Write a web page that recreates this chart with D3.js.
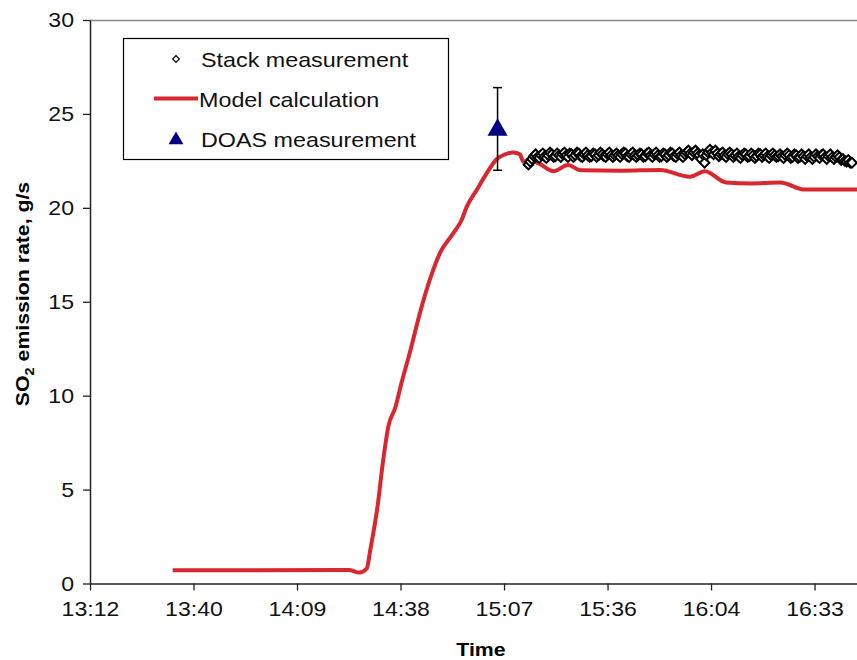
<!DOCTYPE html>
<html>
<head>
<meta charset="utf-8">
<script src="https://cdn.jsdelivr.net/npm/d3@7"></script>
<style>
  body { margin: 0; background: #fff; }
  text { font-family: "Liberation Sans", Arial, sans-serif; }
</style>
</head>
<body>
<div id="chart-area"></div>
<script>

// times are minutes after midnight
var xTicks = [792, 820.8, 849.6, 878.4, 907.2, 936, 964.8, 993.6];
var yTicks = [0, 5, 10, 15, 20, 25, 30];

// model calculation (red line)
var modelTimes = [815, 862, 864, 867, 869, 870, 872, 873.6, 875, 877, 878.7, 881, 883.8, 886.6,
    889.4, 893.1, 895.4, 896.8, 899.6, 902.4, 905.2, 907.5, 909.8, 911.6, 912.6, 914, 917, 921,
    925, 928.5, 940, 950.6, 958.9, 963.1, 969, 976, 984, 991, 1006];
var modelValues = [0.7, 0.72, 0.72, 0.58, 0.8, 1.8, 4.1, 6.6, 8.35, 9.4, 10.7, 12.3, 14.4, 16.2,
    17.6, 18.65, 19.35, 20.05, 20.95, 21.85, 22.6, 22.85, 22.95, 22.85, 22.45, 22.55, 22.35, 21.95,
    22.28, 22.0, 21.98, 22.02, 21.66, 21.95, 21.35, 21.3, 21.35, 20.97, 20.97];

// stack measurement, one reading every 30 s from 15:14
var stackStart = 914;
var stackStep = 0.5;
var stackValues = [
    22.3, 22.45, 22.6, 22.75, 22.85, 22.7, 22.65, 22.8, 22.9, 22.75,
    22.65, 22.8, 22.95, 22.85, 22.7, 22.75, 22.9, 22.8, 22.7, 22.85,
    22.95, 22.8, 22.7, 22.9, 22.85, 22.7, 22.8, 22.95, 22.9, 22.75,
    22.7, 22.85, 22.95, 22.8, 22.7, 22.75, 22.9, 22.85, 22.7, 22.8,
    22.95, 22.85, 22.75, 22.7, 22.85, 22.95, 22.8, 22.7, 22.8, 22.9,
    22.8, 22.7, 22.85, 22.95, 22.9, 22.75, 22.7, 22.85, 22.95, 22.8,
    22.7, 22.8, 22.9, 22.85, 22.7, 22.75, 22.9, 22.95, 22.8, 22.7,
    22.85, 22.95, 22.8, 22.7, 22.75, 22.9, 22.85, 22.7, 22.8, 22.95,
    22.9, 22.75, 22.7, 22.85, 22.95, 22.8, 22.7, 22.85, 22.95, 23.05,
    22.9, 22.8, 22.95, 23.05, 22.9, 22.8, 22.6, 22.85, 22.4, 22.8,
    22.95, 23.1, 22.95, 22.85, 23.05, 22.9, 22.75, 22.85, 22.95, 22.8,
    22.7, 22.85, 22.95, 22.85, 22.7, 22.8, 22.9, 22.75, 22.65, 22.8,
    22.9, 22.85, 22.7, 22.75, 22.9, 22.8, 22.65, 22.75, 22.9, 22.85,
    22.7, 22.8, 22.9, 22.75, 22.65, 22.8, 22.9, 22.8, 22.7, 22.75,
    22.85, 22.75, 22.65, 22.8, 22.9, 22.8, 22.65, 22.7, 22.85, 22.8,
    22.65, 22.7, 22.85, 22.75, 22.6, 22.75, 22.85, 22.7, 22.6, 22.7,
    22.85, 22.75, 22.65, 22.8, 22.85, 22.7, 22.6, 22.75, 22.85, 22.7,
    22.6, 22.7, 22.8, 22.7, 22.55, 22.6, 22.5, 22.45, 22.55, 22.4, 22.4];

// DOAS measurement with error bar
var doasTime = 905.4;
var doasValue = 24.2;
var doasLow = 22.0;
var doasHigh = 26.4;

var svg = d3.select("#chart-area")
  .append("svg")
    .attr("width", 857)
    .attr("height", 660);

var x = d3.scaleLinear()
    .domain([792, 792 + 767 / 3.594])
    .range([90, 857]);

var y = d3.scaleLinear()
    .domain([0, 30])
    .range([583.5, 20]);

function fmtTime(m) {
    var h = Math.floor(m / 60);
    var mm = Math.floor(m % 60 + 1e-6);
    return h + ":" + (mm < 10 ? "0" : "") + mm;
}

// the original text is a bit wider than Liberation Sans
function stretch(sel, k) {
    sel.each(function() {
        var len = this.getComputedTextLength();
        d3.select(this)
            .attr("textLength", len * k)
            .attr("lengthAdjust", "spacingAndGlyphs");
    });
}

// plot area top border
svg.append("line")
    .attr("x1", 90).attr("x2", 857)
    .attr("y1", 20.5).attr("y2", 20.5)
    .attr("stroke", "#888")
    .attr("stroke-width", 1.5);

// axes
var xAxis = svg.append("g")
    .attr("transform", "translate(0,583.5)")
    .call(d3.axisBottom(x).tickValues(xTicks).tickFormat(fmtTime).tickSize(7).tickSizeOuter(0));

var yAxis = svg.append("g")
    .attr("transform", "translate(90,0)")
    .call(d3.axisLeft(y).tickValues(yTicks).tickSize(7).tickSizeOuter(0));

[xAxis, yAxis].forEach(function(g) {
    g.select(".domain").attr("stroke", "#222").attr("stroke-width", 1.5);
    g.selectAll(".tick line").attr("stroke", "#222").attr("stroke-width", 1.3);
    g.selectAll(".tick text")
        .attr("font-family", "Liberation Sans, Arial, sans-serif")
        .attr("font-size", 21)
        .attr("fill", "#111");
});
xAxis.selectAll(".tick text").attr("dy", "1.05em");
yAxis.selectAll(".tick text").attr("x", -16);
stretch(xAxis.selectAll(".tick text"), 1.1);
stretch(yAxis.selectAll(".tick text"), 1.1);

// axis titles
var xTitle = svg.append("text")
    .attr("x", 481)
    .attr("y", 656)
    .attr("text-anchor", "middle")
    .attr("font-size", 19)
    .attr("font-weight", "bold")
    .text("Time");
stretch(xTitle, 1.12);

var yTitle = svg.append("text")
    .attr("transform", "translate(29,294) rotate(-90) scale(1.12,1)")
    .attr("text-anchor", "middle")
    .attr("font-size", 19)
    .attr("font-weight", "bold");
yTitle.append("tspan").text("SO");
yTitle.append("tspan").attr("font-size", 13).attr("dy", 5).text("2");
yTitle.append("tspan").attr("dy", -5).text(" emission rate, g/s");

// model line
var modelData = modelTimes.map(function(t, i) { return { t: t, v: modelValues[i] }; });
var line = d3.line()
    .x(function(d) { return x(d.t); })
    .y(function(d) { return y(d.v); })
    .curve(d3.curveMonotoneX);

svg.append("path")
    .datum(modelData)
    .attr("d", line)
    .attr("fill", "none")
    .attr("stroke", "#d9262f")
    .attr("stroke-width", 4)
    .attr("stroke-linejoin", "round");

// stack measurement diamonds
var diamond = d3.symbol().type(d3.symbolSquare).size(46);
svg.selectAll(".stack")
    .data(stackValues)
    .enter()
    .append("path")
        .attr("class", "stack")
        .attr("d", diamond)
        .attr("transform", function(d, i) {
            return "translate(" + x(stackStart + i * stackStep) + "," + y(d) + ") rotate(45)";
        })
        .attr("fill", "#fff")
        .attr("stroke", "#000")
        .attr("stroke-width", 2);

// DOAS error bar and marker
var ex = x(doasTime);
svg.append("line")
    .attr("x1", ex).attr("x2", ex)
    .attr("y1", y(doasHigh)).attr("y2", y(doasLow))
    .attr("stroke", "#000").attr("stroke-width", 1.5);
[doasHigh, doasLow].forEach(function(v) {
    svg.append("line")
        .attr("x1", ex - 4.5).attr("x2", ex + 4.5)
        .attr("y1", y(v)).attr("y2", y(v))
        .attr("stroke", "#000").attr("stroke-width", 1.5);
});
svg.append("path")
    .attr("d", d3.symbol().type(d3.symbolTriangle).size(175))
    .attr("transform", "translate(" + ex + "," + (y(doasValue) + 1) + ")")
    .attr("fill", "#000080");

// legend
var legend = svg.append("g");
legend.append("rect")
    .attr("x", 123.5).attr("y", 38.5)
    .attr("width", 325).attr("height", 121)
    .attr("fill", "#fff")
    .attr("stroke", "#000")
    .attr("stroke-width", 1.2);

legend.append("path")
    .attr("d", d3.symbol().type(d3.symbolSquare).size(22))
    .attr("transform", "translate(176,59) rotate(45)")
    .attr("fill", "#fff").attr("stroke", "#000").attr("stroke-width", 1.2);
legend.append("line")
    .attr("x1", 154).attr("x2", 198)
    .attr("y1", 98.5).attr("y2", 98.5)
    .attr("stroke", "#d9262f").attr("stroke-width", 4);
legend.append("path")
    .attr("d", d3.symbol().type(d3.symbolTriangle).size(95))
    .attr("transform", "translate(176,140)")
    .attr("fill", "#000080");

var legendLabels = ["Stack measurement", "Model calculation", "DOAS measurement"];
var legendText = legend.selectAll(".lbl")
    .data(legendLabels)
    .enter()
    .append("text")
        .attr("class", "lbl")
        .attr("x", function(d, i) { return i === 1 ? 199 : 201; })
        .attr("y", function(d, i) { return 59 + i * 40; })
        .attr("dy", "0.36em")
        .attr("font-size", 21)
        .attr("fill", "#111")
        .text(function(d) { return d; });
stretch(legendText, 1.11);

</script>
</body>
</html>
